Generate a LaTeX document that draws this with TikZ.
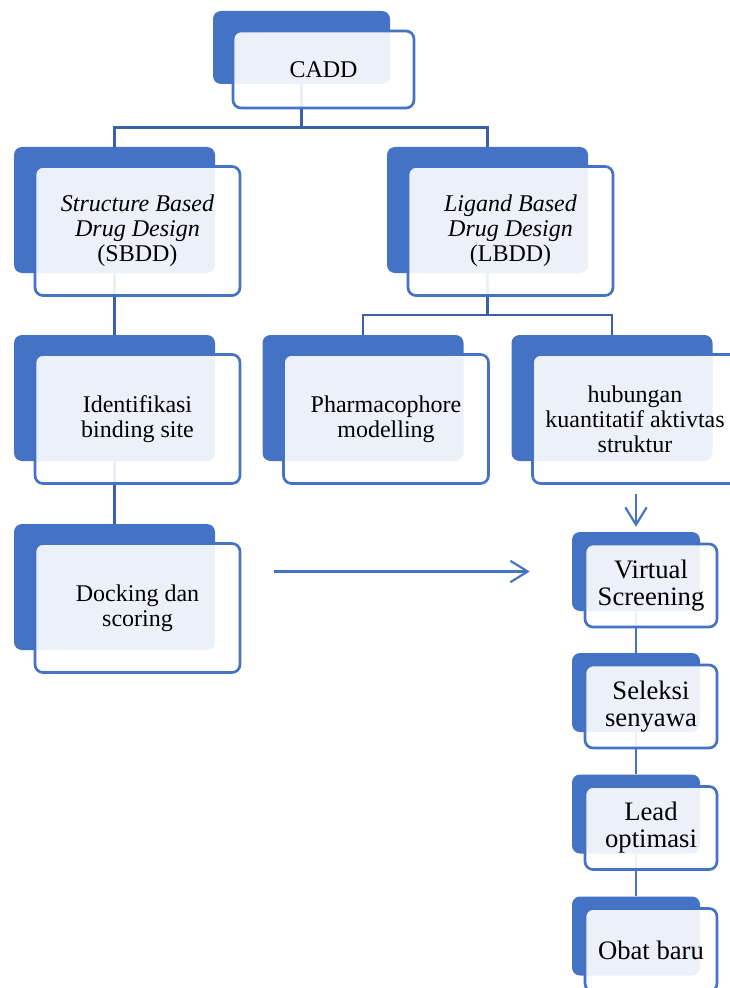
\documentclass[tikz,border=0pt]{standalone}
\usepackage{fontspec}
\setmainfont{Liberation Serif}
\usetikzlibrary{calc,arrows.meta}
\definecolor{accent}{HTML}{4472C4}
\definecolor{accentdark}{HTML}{3A61A7}

\begin{document}
\begin{tikzpicture}[x=0.75pt,y=-0.75pt,
  boxback/.style={fill=accent, rounded corners=6pt, inner sep=0pt,
    minimum width=150.75pt, minimum height=94.5pt},
  boxfront/.style={draw=accent, line width=2pt, fill=white, fill opacity=0.9,
    text opacity=1, rounded corners=6pt, inner sep=0pt, align=center,
    minimum width=153.75pt, minimum height=96.75pt,
    font=\fontsize{18}{18.75}\selectfont},
  topback/.style={boxback, minimum width=132.75pt, minimum height=54.75pt},
  topfront/.style={boxfront, minimum width=135.75pt, minimum height=57.75pt},
  smallback/.style={boxback, minimum width=96pt, minimum height=59.25pt},
  smallfront/.style={boxfront, minimum width=99pt, minimum height=62.25pt,
    font=\fontsize{20}{20.25}\selectfont},
  treeline/.style={draw=accentdark, line width=1.6pt},
  chainline/.style={draw=accent, line width=1.6pt},
  flowarrow/.style={chainline, -{Straight Barb[length=13pt,width=16pt]}}]
\useasboundingbox (0,0) rectangle (730,988);

% back boxes
\node[topback] (cadd-b) at (301.5,47.5) {};
\node[boxback] (sbdd-b) at (114.5,210) {};
\node[boxback] (lbdd-b) at (487.5,210) {};
\node[boxback] (iden-b) at (114.5,398) {};
\node[boxback] (dock-b) at (114.5,587) {};
\node[boxback] (phar-b) at (363,398) {};
\node[boxback] (qsar-b) at (612,398) {};
\node[smallback] (vs-b) at (636,571.5) {};
\node[smallback] (sel-b) at (636,692.5) {};
\node[smallback] (lead-b) at (636,814) {};
\node[smallback] (obat-b) at (636,936) {};

% connectors (behind the front boxes)
\coordinate (bus1) at (0,127.5);
\coordinate (bus2) at (0,315);
\draw[treeline] (cadd-b.south) -- (cadd-b.south |- bus1) -| (sbdd-b.north);
\draw[treeline] (cadd-b.south |- bus1) -| (lbdd-b.north);
\draw[treeline] (sbdd-b.south) -- (iden-b.north);
\draw[treeline] (iden-b.south) -- (dock-b.north);
\draw[treeline] (lbdd-b.south) -- (lbdd-b.south |- bus2) -| (phar-b.north);
\draw[treeline] (lbdd-b.south |- bus2) -| (qsar-b.north);
\draw[chainline] (vs-b.south) -- (sel-b.north);
\draw[chainline] (sel-b.south) -- (lead-b.north);
\draw[chainline] (lead-b.south) -- (obat-b.north);

% front boxes
\node[topfront] (cadd) at ($(cadd-b)+(22,22)$) {CADD};
\node[boxfront] (sbdd) at ($(sbdd-b)+(23,21)$) {\textit{Structure Based}\\\textit{Drug Design}\\(SBDD)};
\node[boxfront] (lbdd) at ($(lbdd-b)+(23,21)$) {\textit{Ligand Based}\\\textit{Drug Design}\\(LBDD)};
\node[boxfront] (iden) at ($(iden-b)+(23,21)$) {Identifikasi\\binding site};
\node[boxfront] (dock) at ($(dock-b)+(23,21)$) {Docking dan\\scoring};
\node[boxfront] (phar) at ($(phar-b)+(23,21)$) {Pharmacophore\\modelling};
\node[boxfront] (qsar) at ($(qsar-b)+(23,21)$) {hubungan\\kuantitatif aktivtas\\struktur};
\node[smallfront] (vs) at ($(vs-b)+(15,14)$) {Virtual\\Screening};
\node[smallfront] (sel) at ($(sel-b)+(15,14)$) {Seleksi\\senyawa};
\node[smallfront] (lead) at ($(lead-b)+(15,14)$) {Lead\\optimasi};
\node[smallfront] (obat) at ($(obat-b)+(15,14)$) {Obat baru};

% arrows
\draw[flowarrow, shorten <=24.75pt, shorten >=31.5pt] (dock.east |- vs-b.west) -- (vs-b.west);
\draw[flowarrow, shorten <=6.75pt, shorten >=3.75pt] (vs-b.north |- qsar.south) -- (vs-b.north);

\end{tikzpicture}
\end{document}
